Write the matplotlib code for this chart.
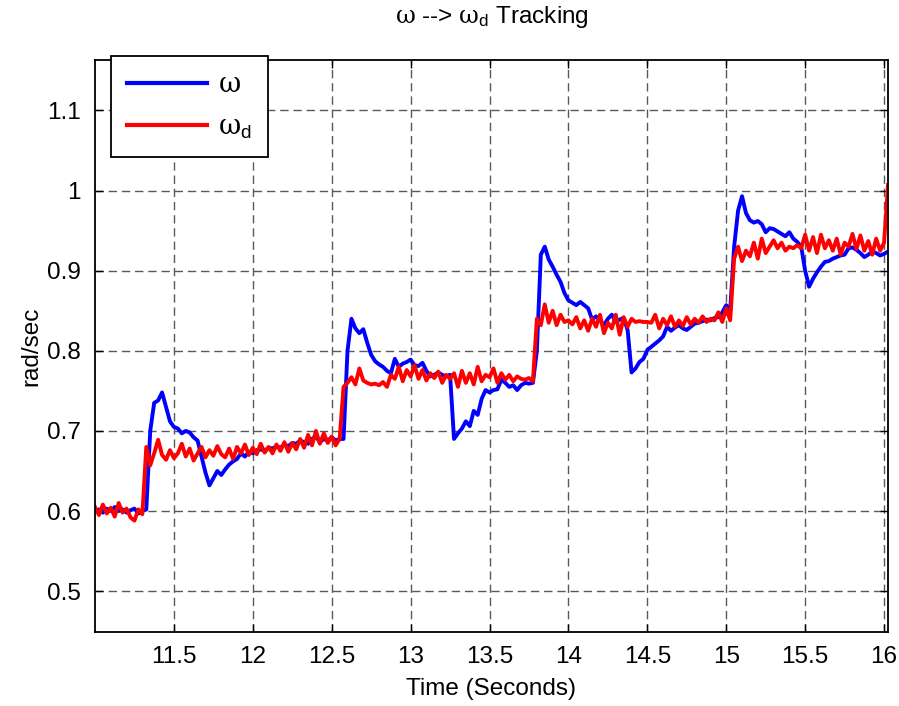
import numpy as np
import matplotlib
matplotlib.use("Agg")
import matplotlib.pyplot as plt

#############################################################
# Data - angular rate and its reference, sampled every 25 ms
#############################################################

t_start = 11.0
t_step = 0.025

# measured angular rate (rad/sec)
omega = [
    0.600, 0.602, 0.598, 0.603, 0.600, 0.605, 0.600, 0.602,
    0.598, 0.601, 0.603, 0.597, 0.600, 0.602, 0.700, 0.735,
    0.738, 0.748, 0.730, 0.712, 0.705, 0.703, 0.697, 0.700,
    0.698, 0.692, 0.688, 0.668, 0.648, 0.632, 0.641, 0.650,
    0.645, 0.652, 0.658, 0.662, 0.665, 0.672, 0.668, 0.674,
    0.672, 0.676, 0.677, 0.675, 0.679, 0.678, 0.681, 0.679,
    0.683, 0.681, 0.685, 0.684, 0.688, 0.686, 0.684, 0.690,
    0.693, 0.686, 0.690, 0.688, 0.692, 0.688, 0.690, 0.690,
    0.800, 0.840, 0.828, 0.822, 0.827, 0.810, 0.795, 0.787,
    0.783, 0.780, 0.775, 0.772, 0.790, 0.780, 0.784, 0.786,
    0.789, 0.782, 0.781, 0.785, 0.775, 0.768, 0.770, 0.773,
    0.770, 0.768, 0.770, 0.690, 0.697, 0.703, 0.712, 0.706,
    0.725, 0.720, 0.740, 0.751, 0.748, 0.751, 0.752, 0.764,
    0.760, 0.755, 0.757, 0.751, 0.757, 0.760, 0.759, 0.760,
    0.800, 0.920, 0.930, 0.914, 0.905, 0.895, 0.886, 0.872,
    0.863, 0.860, 0.857, 0.861, 0.857, 0.853, 0.839, 0.843,
    0.838, 0.832, 0.840, 0.845, 0.836, 0.839, 0.841, 0.826,
    0.773, 0.778, 0.786, 0.790, 0.801, 0.805, 0.809, 0.813,
    0.818, 0.830, 0.825, 0.829, 0.832, 0.828, 0.826, 0.830,
    0.834, 0.835, 0.837, 0.839, 0.838, 0.841, 0.842, 0.848,
    0.857, 0.850, 0.930, 0.975, 0.993, 0.972, 0.963, 0.960,
    0.962, 0.958, 0.948, 0.953, 0.952, 0.949, 0.946, 0.943,
    0.948, 0.940, 0.936, 0.930, 0.900, 0.880, 0.890, 0.898,
    0.905, 0.911, 0.912, 0.915, 0.917, 0.919, 0.920, 0.928,
    0.929, 0.926, 0.922, 0.917, 0.920, 0.924, 0.922, 0.919,
    0.921, 0.924,
]

# desired angular rate (rad/sec)
omega_d = [
    0.605, 0.595, 0.608, 0.597, 0.604, 0.593, 0.610, 0.598,
    0.603, 0.592, 0.588, 0.602, 0.596, 0.680, 0.657, 0.672,
    0.689, 0.670, 0.664, 0.676, 0.666, 0.672, 0.684, 0.668,
    0.678, 0.663, 0.672, 0.680, 0.667, 0.676, 0.669, 0.681,
    0.671, 0.667, 0.678, 0.665, 0.680, 0.672, 0.683, 0.670,
    0.679, 0.671, 0.684, 0.673, 0.680, 0.672, 0.683, 0.675,
    0.686, 0.674, 0.685, 0.677, 0.690, 0.679, 0.695, 0.682,
    0.700, 0.684, 0.697, 0.685, 0.693, 0.682, 0.690, 0.755,
    0.760, 0.767, 0.758, 0.778, 0.763, 0.760, 0.758, 0.759,
    0.757, 0.761, 0.755, 0.770, 0.765, 0.780, 0.762, 0.776,
    0.768, 0.782, 0.765, 0.776, 0.763, 0.772, 0.766, 0.774,
    0.760, 0.770, 0.765, 0.772, 0.755, 0.775, 0.760, 0.772,
    0.758, 0.780, 0.762, 0.770, 0.767, 0.778, 0.760, 0.772,
    0.764, 0.770, 0.762, 0.768, 0.765, 0.764, 0.766, 0.762,
    0.840, 0.832, 0.858, 0.835, 0.850, 0.832, 0.845, 0.836,
    0.838, 0.833, 0.842, 0.828, 0.838, 0.825, 0.840, 0.830,
    0.845, 0.822, 0.835, 0.828, 0.845, 0.820, 0.842, 0.830,
    0.840, 0.836, 0.837, 0.836, 0.836, 0.835, 0.845, 0.828,
    0.840, 0.832, 0.843, 0.830, 0.838, 0.831, 0.842, 0.833,
    0.840, 0.835, 0.843, 0.836, 0.840, 0.838, 0.848, 0.836,
    0.853, 0.838, 0.915, 0.930, 0.912, 0.925, 0.918, 0.935,
    0.915, 0.940, 0.922, 0.930, 0.938, 0.928, 0.935, 0.925,
    0.930, 0.928, 0.932, 0.928, 0.945, 0.925, 0.942, 0.922,
    0.945, 0.928, 0.938, 0.925, 0.940, 0.920, 0.935, 0.930,
    0.946, 0.927, 0.944, 0.925, 0.937, 0.920, 0.940, 0.925,
    0.935, 1.007,
]

time = t_start + t_step * np.arange(len(omega))

x_ticks = [11.5, 12, 12.5, 13, 13.5, 14, 14.5, 15, 15.5, 16]
x_tick_labels = ["11.5", "12", "12.5", "13", "13.5", "14", "14.5", "15", "15.5", "16"]
y_ticks = [0.5, 0.6, 0.7, 0.8, 0.9, 1.0, 1.1]
y_tick_labels = ["0.5", "0.6", "0.7", "0.8", "0.9", "1", "1.1"]

#############################################################
# Presentation
#############################################################

plt.rcParams['font.family'] = ['Liberation Sans', 'DejaVu Sans']
# upright serif omega, sans subscript
plt.rcParams['mathtext.fontset'] = 'custom'
plt.rcParams['mathtext.rm'] = 'DejaVu Serif'
plt.rcParams['mathtext.it'] = 'DejaVu Serif'
plt.rcParams['mathtext.sf'] = 'Liberation Sans'
font_size = 17.5

w_sym = r'$\mathrm{\omega}$'
wd_sym = r'$\mathrm{\omega}_{\mathsf{d}}$'

fig = plt.figure(figsize=(8.99, 7.06), dpi=100)
W, H = 899.0, 706.0
ax = fig.add_axes([95 / W, 1 - 632 / H, (888 - 95) / W, (632 - 60) / H])

ax.plot(time, omega, color='#0000ff', lw=2.8, label=w_sym)
ax.plot(time, omega_d, color='#ff0000', lw=2.8, label=wd_sym)

ax.set_xlim(11.0, 16.025)
ax.set_ylim(0.449, 1.163)
ax.set_xticks(x_ticks)
ax.set_xticklabels(x_tick_labels)
ax.set_yticks(y_ticks)
ax.set_yticklabels(y_tick_labels)

ax.grid(True, color='0.35', linestyle=(0, (6, 3.5)), linewidth=1.0)
ax.tick_params(direction='in', length=6, width=1, top=True, right=True,
               labelsize=font_size, pad=10, colors='black')
for s in ax.spines.values():
    s.set_linewidth(1.3)

ax.set_title(w_sym + ' --> ' + wd_sym + ' Tracking', fontsize=font_size, pad=27)
ax.set_xlabel('Time (Seconds)', fontsize=font_size)
ax.set_ylabel('rad/sec', fontsize=font_size)
ax.xaxis.set_label_coords(0.5, -0.08)
ax.yaxis.set_label_coords(-0.066, 0.5)

leg = ax.legend(loc='upper left', bbox_to_anchor=(111 / W, 1 - 56 / H),
                bbox_transform=fig.transFigure, borderaxespad=0,
                fontsize=font_size + 2, handlelength=2.95, handletextpad=0.4,
                borderpad=0.6, labelspacing=0.6, fancybox=False, framealpha=1)
leg.get_frame().set_edgecolor('black')
leg.get_frame().set_linewidth(1.3)
for line in leg.get_lines():
    line.set_linewidth(3)

plt.savefig('out.png', dpi=100)
